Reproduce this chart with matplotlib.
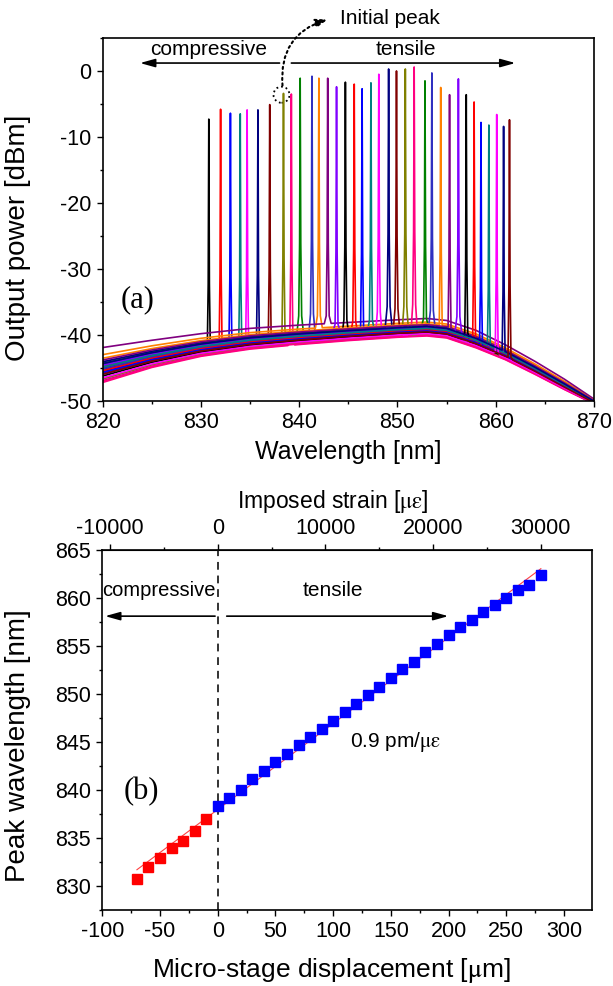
import numpy as np
import matplotlib
matplotlib.use("Agg")
import matplotlib.pyplot as plt
from matplotlib.patches import Ellipse
from matplotlib.ticker import MultipleLocator, FixedLocator

plt.rcParams["font.family"] = ["Liberation Sans", "DejaVu Sans"]
plt.rcParams["mathtext.fontset"] = "stix"
plt.rcParams["axes.unicode_minus"] = False

# ---- (a) spectra: peak positions and peak powers
peak_nm = [830.8, 832.0, 833.0, 834.0, 834.7, 835.8, 837.0, 838.4, 839.2, 840.1,
           841.3, 842.0, 842.9, 843.8, 844.7, 845.6, 846.4, 847.3, 848.1, 849.1,
           849.9, 850.8, 851.7, 852.8, 853.5, 854.4, 855.3, 856.2, 857.0, 857.8,
           858.5, 859.3, 860.1, 860.8, 861.4]
peak_dbm = [-7.3, -5.8, -6.4, -6.5, -5.9, -5.9, -5.1, -3.4, -3.5, -1.1,
            -0.8, -1.1, -1.1, -2.4, -1.7, -2.0, -2.7, -1.8, -0.5, 0.3,
            0.0, 0.3, 0.6, -1.5, -0.3, -2.5, -3.6, -1.2, -3.6, -4.7,
            -7.8, -8.2, -6.6, -8.4, -7.4]

# ASE background band, upper and lower envelope
env_nm = np.array([820, 825, 830, 835, 840, 845, 850, 853, 855, 858, 861, 864, 867, 870.5])
upper_db = np.array([-41.9, -40.8, -39.8, -39.0, -38.5, -38.1, -37.7, -37.5, -37.8,
                     -39.3, -41.5, -44.0, -46.7, -50.2])
lower_db = np.array([-47.3, -45.0, -43.3, -42.2, -41.5, -40.9, -40.4, -40.2, -40.5,
                     -42.0, -43.8, -46.0, -48.3, -50.8])
# where each trace sits inside the band (0 = lower edge, 1 = upper edge)
base_frac = [0.45, 0.35, 0.4, 0.5, 0.3, 0.4, 0.08, 0.55, 0.02, 0.5,
             0.35, 0.8, 1.0, 0.6, 0.3, 0.45, 0.25, 0.5, 0.1, 0.6,
             0.3, 0.12, 0.05, 0.55, 0.4, 0.7, 0.65, 0.5, 0.2, 0.35,
             0.3, 0.45, 0.15, 0.55, 0.25]

# narrow peak profile: offset [nm] vs drop below the peak [dB]
profile_dx = np.array([-0.35, -0.15, -0.06, -0.025, 0.0, 0.025, 0.06, 0.15, 0.35])
profile_drop = np.array([45, 36, 25, 10, 0, 10, 25, 36, 45])

trace_colors = ["#000000", "#FF0000", "#0000FF", "#008080", "#FF00FF", "#000080",
                "#800000", "#808000", "#FF0080", "#008000", "#3030C0", "#FF8000",
                "#800080", "#8000FF"]

# ---- (b) peak wavelength vs displacement
disp_red = [-70, -60, -50, -40, -30, -20, -10]
wl_red = [830.73, 831.98, 832.96, 834.00, 834.66, 835.73, 836.96]
disp_blue = list(range(0, 290, 10))
wl_blue = [838.31, 839.14, 840.04, 841.20, 842.04, 842.90, 843.81, 844.67, 845.54,
           846.42, 847.25, 848.12, 849.02, 849.92, 850.75, 851.66, 852.63, 853.40,
           854.40, 855.28, 856.15, 856.98, 857.79, 858.55, 859.31, 860.08, 860.84,
           861.44, 862.41]
fit_x = [-70, 280]
fit_y = [831.7, 863.1]
strain_per_um = 107.2  # microstrain per micrometre
strain_ticks = [-10000, 0, 10000, 20000, 30000]

TICK_FS = 15.5
ANN_FS = 15


def style_axes(ax):
    for sp in ax.spines.values():
        sp.set_linewidth(1.2)
    ax.tick_params(which="both", direction="out", labelsize=TICK_FS, width=1.0)
    ax.tick_params(which="major", length=4.5)
    ax.tick_params(which="minor", length=2.5)


def arrow(ax, tail, head, **kw):
    ax.annotate("", xy=head, xytext=tail,
                arrowprops=dict(arrowstyle="-|>,head_length=0.9,head_width=0.25",
                                color="black", lw=1.2, shrinkA=0, shrinkB=0),
                **kw)


fig = plt.figure(figsize=(6.13, 9.86), dpi=100)

# ---------------- panel (a)
ax1 = fig.add_axes([0.1675, 0.5933, 0.8015, 0.3682])
for i, (pk, pdb) in enumerate(zip(peak_nm, peak_dbm)):
    base = lower_db + base_frac[i] * (upper_db - lower_db)
    px = pk + profile_dx
    floor = np.interp(px, env_nm, base)
    py = np.maximum(floor, pdb - profile_drop)
    left = env_nm < px[0]
    right = env_nm > px[-1]
    x = np.concatenate([env_nm[left], px, env_nm[right]])
    y = np.concatenate([base[left], py, base[right]])
    ax1.plot(x, y, color=trace_colors[i % len(trace_colors)], lw=1.2)

ax1.set_xlim(820, 870)
ax1.set_ylim(-50, 5)
ax1.xaxis.set_major_locator(MultipleLocator(10))
ax1.xaxis.set_minor_locator(MultipleLocator(5))
ax1.yaxis.set_major_locator(MultipleLocator(10))
ax1.yaxis.set_minor_locator(MultipleLocator(5))
style_axes(ax1)
ax1.set_xlabel("Wavelength [nm]", fontsize=18, labelpad=5)
ax1.set_ylabel("Output power [dBm]", fontsize=20)
ax1.yaxis.set_label_coords(-0.145, 0.45)

ax1.text(823.5, -34.6, "(a)", family=["Liberation Serif"], fontsize=22,
         ha="center", va="center")
arrow(ax1, (838.0, 1.2), (823.8, 1.2))
arrow(ax1, (839.2, 1.2), (862.0, 1.2))
ax1.text(830.8, 3.3, "compressive", fontsize=ANN_FS, ha="center", va="center")
ax1.text(850.9, 3.3, "tensile", fontsize=ANN_FS, ha="center", va="center")

ax1.add_patch(Ellipse((838.2, -3.6), 1.63, 2.44, fill=False, ls=":", lw=1.3,
                      color="black"))
ax1.annotate("", xy=(842.9, 7.8), xytext=(838.3, -2.2), annotation_clip=False,
             arrowprops=dict(arrowstyle="-|>,head_length=0.7,head_width=0.25",
                             linestyle=":", lw=1.5, color="black",
                             connectionstyle="arc3,rad=-0.4",
                             shrinkA=0, shrinkB=0))
ax1.text(849.2, 8.0, "Initial peak", fontsize=ANN_FS, ha="center", va="center",
         clip_on=False)

# ---------------- panel (b)
ax2 = fig.add_axes([0.1669, 0.0771, 0.7994, 0.3646])
ax2.plot(fit_x, fit_y, color="#FF4040", lw=0.8, zorder=2)
ax2.plot(disp_red, wl_red, ls="none", marker="s", ms=6.5, color="#FF0000", zorder=3)
ax2.plot(disp_blue, wl_blue, ls="none", marker="s", ms=6.5, color="#0000FF", zorder=3)
ax2.axvline(0, color="#333333", ls=(0, (4, 3)), lw=1.4, zorder=1)

ax2.set_xlim(-100, 324.6)
ax2.set_ylim(827.5, 865)
ax2.xaxis.set_major_locator(MultipleLocator(50))
ax2.xaxis.set_minor_locator(MultipleLocator(25))
ax2.yaxis.set_major_locator(MultipleLocator(5))
ax2.yaxis.set_minor_locator(MultipleLocator(2.5))
style_axes(ax2)
ax2.set_xlabel(r"Micro-stage displacement [$\mathrm{\mu}$m]", fontsize=19)
ax2.xaxis.set_label_coords(0.467, -0.128)
ax2.set_ylabel("Peak wavelength [nm]", fontsize=20)
ax2.yaxis.set_label_coords(-0.145, 0.456)

sec = ax2.secondary_xaxis("top", functions=(lambda d: d * strain_per_um,
                                            lambda s: s / strain_per_um))
sec.xaxis.set_major_locator(FixedLocator(strain_ticks))
sec.xaxis.set_minor_locator(FixedLocator([-5000, 5000, 15000, 25000]))
sec.tick_params(which="both", direction="out", labelsize=TICK_FS, width=1.0)
sec.tick_params(which="major", length=4.5)
sec.tick_params(which="minor", length=2.5)
sec.set_xlabel(r"Imposed strain [$\mathrm{\mu\varepsilon}$]", fontsize=16.5)
sec.xaxis.set_label_coords(0.47, 1.118, transform=ax2.transAxes)

arrow(ax2, (-2.3, 858.15), (-97.6, 858.15))
arrow(ax2, (7.8, 858.15), (199.8, 858.15))
ax2.text(-50.9, 860.8, "compressive", fontsize=ANN_FS - 0.5, ha="center", va="center")
ax2.text(99.9, 860.8, "tensile", fontsize=ANN_FS, ha="center", va="center")
ax2.text(115, 845.0, r"0.9 pm/$\mathrm{\mu\varepsilon}$", fontsize=ANN_FS,
         ha="left", va="center")
ax2.text(-66.4, 839.8, "(b)", family=["Liberation Serif"], fontsize=22,
         ha="center", va="center")

fig.savefig("out.png", dpi=100)
plt.close(fig)
